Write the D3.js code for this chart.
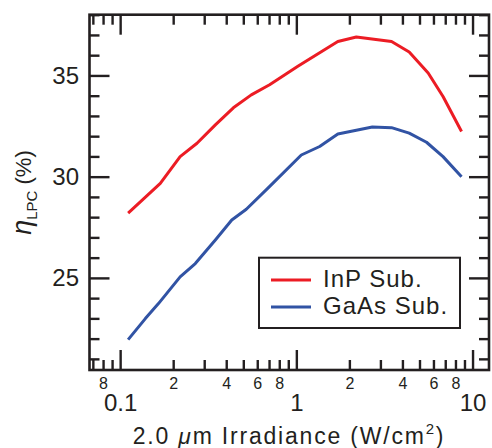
<!DOCTYPE html>
<html>
<head>
<meta charset="utf-8">
<script src="https://cdn.jsdelivr.net/npm/d3@7"></script>
<style>
  body { margin: 0; background: #fff; }
  svg text { font-family: "Liberation Sans", Arial, Helvetica, sans-serif; fill: #231f20; }
</style>
</head>
<body>
<div id="chart"></div>
<script>
// data
var inpX = [0.111, 0.169, 0.219, 0.273, 0.347, 0.439, 0.555, 0.705, 1.02, 1.72, 2.19, 3.47, 4.37, 5.6, 6.8, 8.66];
var inpY = [28.2, 29.67, 30.99, 31.65, 32.56, 33.4, 34.04, 34.54, 35.45, 36.68, 36.9, 36.68, 36.16, 35.12, 33.96, 32.23];
var gaasX = [0.111, 0.139, 0.165, 0.219, 0.267, 0.347, 0.43, 0.52, 0.69, 1.067, 1.356, 1.72, 2.7, 3.47, 4.37, 5.48, 6.8, 8.66];
var gaasY = [21.95, 22.99, 23.73, 25.05, 25.71, 26.87, 27.86, 28.39, 29.43, 31.07, 31.49, 32.11, 32.45, 32.42, 32.15, 31.7, 30.99, 30.0];
var seriesNames = ['InP Sub.', 'GaAs Sub.'];
var seriesColors = ['#ec1c24', '#3153a4'];

var xMajor = [0.1, 1, 10];
var xMinor = [0.07, 0.08, 0.09, 0.2, 0.3, 0.4, 0.5, 0.6, 0.7, 0.8, 0.9, 2, 3, 4, 5, 6, 7, 8, 9];
var xMinorLabels = [0.08, 0.2, 0.4, 0.6, 0.8, 2, 4, 6, 8];
var yMajor = [25, 30, 35];
var yMinor = [21, 22, 23, 24, 26, 27, 28, 29, 31, 32, 33, 34, 36, 37, 38];

var width = 492;
var height = 448;
var margin = { top: 14.7, right: 3, bottom: 78, left: 89.5 };
var graphWidth = width - margin.left - margin.right;
var graphHeight = height - margin.top - margin.bottom;
var ink = '#231f20';

var svg = d3
  .select('#chart')
  .append('svg')
  .attr('width', width)
  .attr('height', height);
var graph = svg
  .append('g')
  .attr('transform', 'translate(' + margin.left + ',' + margin.top + ')');

var x = d3.scaleLog().domain([0.067, 12.4]).range([0, graphWidth]);
var y = d3.scaleLinear().domain([20.45, 38.0]).range([graphHeight, 0]);

var minorFmt = d => {
  if (xMinorLabels.indexOf(d) < 0) return '';
  var p = Math.pow(10, Math.floor(Math.log10(d) + 1e-9));
  return String(Math.round(d / p));
};

function styleAxis(sel, fontSize) {
  sel.select('.domain').remove();
  sel.attr('color', ink);
  sel.selectAll('line').attr('stroke-width', 2.4);
  sel.selectAll('text').style('font-size', fontSize + 'px');
}

// bottom axis
graph.append('g')
  .attr('transform', 'translate(0,' + graphHeight + ')')
  .call(d3.axisBottom(x).tickValues(xMinor).tickSize(-10).tickPadding(8).tickFormat(minorFmt))
  .call(styleAxis, 16);
graph.append('g')
  .attr('transform', 'translate(0,' + graphHeight + ')')
  .call(d3.axisBottom(x).tickValues(xMajor).tickSize(-20).tickPadding(24.2).tickFormat(d3.format('~g')))
  .call(styleAxis, 24);

// top axis
graph.append('g')
  .call(d3.axisTop(x).tickValues(xMinor).tickSize(-10).tickFormat(''))
  .call(styleAxis, 16);
graph.append('g')
  .call(d3.axisTop(x).tickValues(xMajor).tickSize(-20).tickFormat(''))
  .call(styleAxis, 16);

// left axis
graph.append('g')
  .call(d3.axisLeft(y).tickValues(yMinor).tickSize(-10).tickFormat(''))
  .call(styleAxis, 24);
graph.append('g')
  .call(d3.axisLeft(y).tickValues(yMajor).tickSize(-20).tickPadding(10.5))
  .call(styleAxis, 24);

// right axis
graph.append('g')
  .attr('transform', 'translate(' + graphWidth + ',0)')
  .call(d3.axisRight(y).tickValues(yMinor).tickSize(-10).tickFormat(''))
  .call(styleAxis, 24);
graph.append('g')
  .attr('transform', 'translate(' + graphWidth + ',0)')
  .call(d3.axisRight(y).tickValues(yMajor).tickSize(-20).tickFormat(''))
  .call(styleAxis, 24);

// frame
graph.append('rect')
  .attr('width', graphWidth)
  .attr('height', graphHeight)
  .attr('fill', 'none')
  .attr('stroke', ink)
  .attr('stroke-width', 2.6);

// curves
var series = [
  { name: seriesNames[0], color: seriesColors[0], xs: inpX, ys: inpY },
  { name: seriesNames[1], color: seriesColors[1], xs: gaasX, ys: gaasY }
];
var line = d3.line().x(d => x(d[0])).y(d => y(d[1]));
series.forEach(s => {
  graph.append('path')
    .datum(s.xs.map((v, i) => [v, s.ys[i]]))
    .attr('d', line)
    .attr('fill', 'none')
    .attr('stroke', s.color)
    .attr('stroke-width', 3)
    .attr('stroke-linejoin', 'round');
});

// legend
var legend = svg.append('g').attr('transform', 'translate(259,257.7)');
legend.append('rect')
  .attr('width', 201)
  .attr('height', 70.3)
  .attr('fill', '#fff')
  .attr('stroke', ink)
  .attr('stroke-width', 2);
series.forEach((s, i) => {
  var ly = 22.3 + i * 27;
  legend.append('line')
    .attr('x1', 12).attr('x2', 52)
    .attr('y1', ly).attr('y2', ly)
    .attr('stroke', s.color)
    .attr('stroke-width', 3);
  legend.append('text')
    .attr('x', 64)
    .attr('y', ly + 7)
    .style('font-size', '24px')
    .style('letter-spacing', '1px')
    .text(s.name);
});

// axis titles
var xt = svg.append('text')
  .attr('x', 289)
  .attr('y', 444)
  .attr('text-anchor', 'middle')
  .style('font-size', '23px')
  .style('letter-spacing', '1.8px');
xt.append('tspan').text('2.0 ');
xt.append('tspan').style('font-style', 'italic').text('\u03bc');
xt.append('tspan').text('m Irradiance (W/cm');
xt.append('tspan').attr('dy', -10).style('font-size', '15px').text('2');
xt.append('tspan').attr('dy', 10).text(')');

var yt = svg.append('text')
  .attr('transform', 'translate(30.5,192.5) rotate(-90)')
  .attr('text-anchor', 'middle')
  .style('font-size', '22px');
yt.append('tspan').style('font-style', 'italic').style('font-size', '27px').text('\u03b7');
yt.append('tspan').attr('dy', 6).style('font-size', '15px').text('LPC');
yt.append('tspan').attr('dy', -6).text(' (%)');
</script>
</body>
</html>
